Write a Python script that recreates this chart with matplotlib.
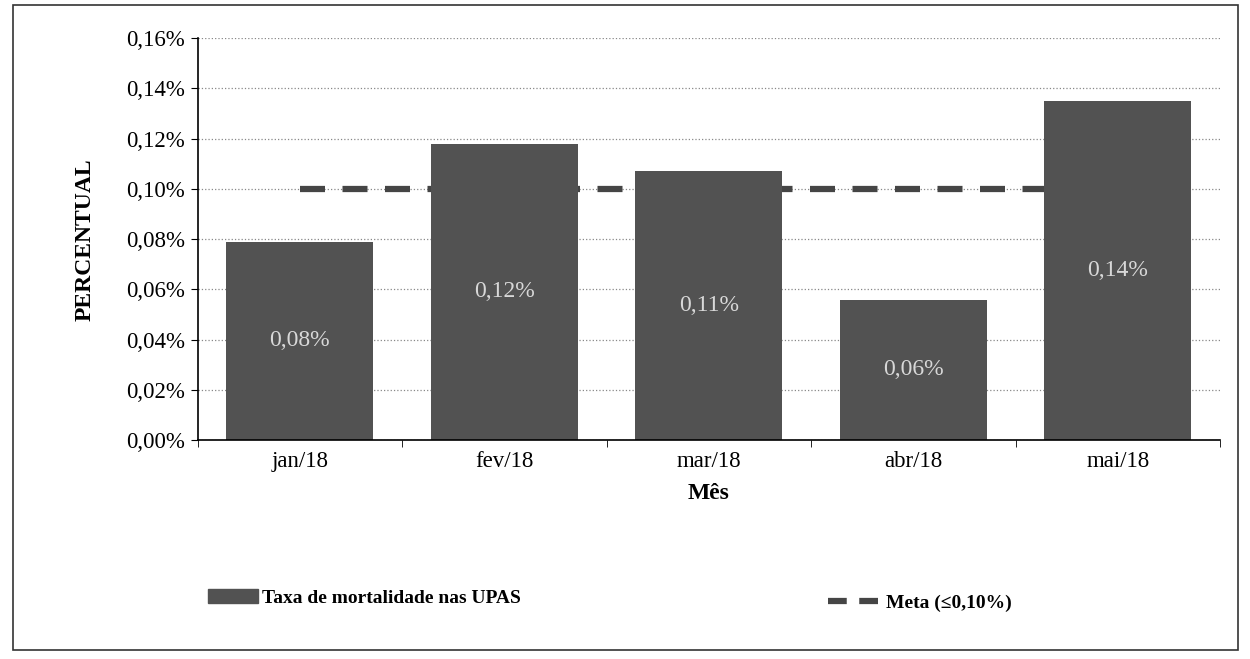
import matplotlib.pyplot as plt
from matplotlib.patches import Rectangle
from matplotlib.lines import Line2D
from matplotlib.ticker import FuncFormatter, FixedLocator

plt.rcParams['font.family'] = ['Liberation Serif', 'DejaVu Serif']

# data (percent values)
months = ['jan/18', 'fev/18', 'mar/18', 'abr/18', 'mai/18']
taxa = [0.079, 0.118, 0.107, 0.056, 0.135]
meta = [0.10, 0.10, 0.10, 0.10, 0.10]

fig = plt.figure(figsize=(12.5, 6.59), dpi=100)
ax = fig.add_axes([0.158, 0.332, 0.818, 0.61])

x = range(len(months))
ax.plot(x, meta, color='#454545', lw=4.5, dashes=(4, 2.8), zorder=1)
bars = ax.bar(x, taxa, width=0.72, color='#525252', zorder=2)

for b, v in zip(bars, taxa):
    ax.text(b.get_x() + b.get_width() / 2, v / 2, f"{v:.2f}%".replace('.', ','),
            ha='center', va='center', color='#d8d8d8', fontsize=17, zorder=3)

ax.set_ylim(0, 0.16)
ax.set_yticks([i * 0.02 for i in range(9)])
ax.yaxis.set_major_formatter(FuncFormatter(lambda v, p: f"{v:.2f}%".replace('.', ',')))
ax.set_xlim(-0.5, len(months) - 0.5)
ax.set_xticks(list(x))
ax.set_xticklabels(months)
ax.xaxis.set_minor_locator(FixedLocator([i + 0.5 for i in range(-1, len(months))]))
ax.tick_params(axis='x', which='major', length=0, pad=8, labelsize=16.5)
ax.tick_params(axis='x', which='minor', length=5, direction='out')
ax.tick_params(axis='y', length=5, direction='out', labelsize=16.5, pad=4)

ax.grid(axis='y', color='#888888', ls=':', lw=0.9, zorder=0)
ax.set_axisbelow(True)
for s in ['top', 'right']:
    ax.spines[s].set_visible(False)
ax.spines['left'].set_linewidth(1.2)
ax.spines['bottom'].set_linewidth(1.2)

ax.set_ylabel('PERCENTUAL', fontsize=17, fontweight='bold', labelpad=22)
ax.set_xlabel('Mês', fontsize=17, fontweight='bold', labelpad=8)

h1 = Rectangle((0, 0), 1, 1, color='#525252')
h2 = Line2D([0], [0], color='#454545', lw=4.5, dashes=(3, 2))
fig.legend([h1], ['Taxa de mortalidade nas UPAS'], loc='center left',
           bbox_to_anchor=(0.152, 0.093), frameon=False, handlelength=2.6,
           handleheight=0.7, handletextpad=0.2, prop={'size': 14, 'weight': 'bold'})
fig.legend([h2], ['Meta (≤0,10%)'], loc='center left',
           bbox_to_anchor=(0.648, 0.085), frameon=False, handlelength=2.7,
           handletextpad=0.3, prop={'size': 14, 'weight': 'bold'})

fig.patches.append(Rectangle((0.01, 0.014), 0.98, 0.978, transform=fig.transFigure,
                             fill=False, edgecolor='#333333', lw=1.2))

fig.savefig('out.png', dpi=100, facecolor='white')
